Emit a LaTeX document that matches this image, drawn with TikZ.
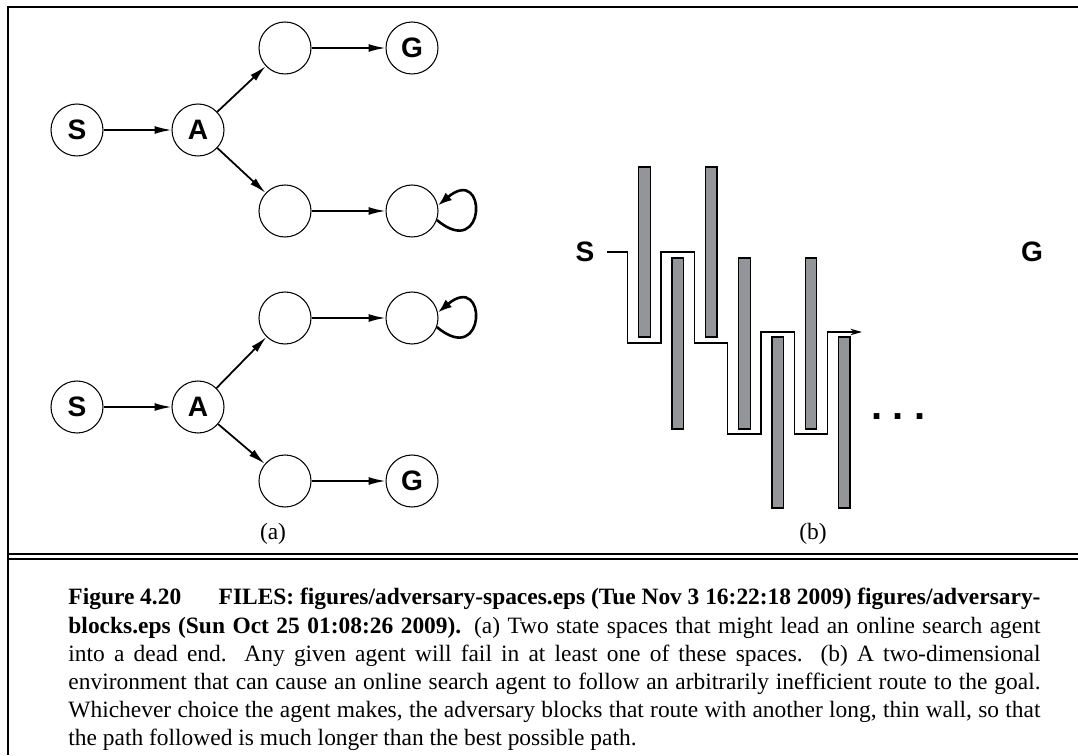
\documentclass[tikz,border=0pt]{standalone}
\usepackage{fontspec}
\setmainfont{Liberation Serif}
\setsansfont{Liberation Sans}
\usetikzlibrary{arrows.meta}
\definecolor{wallgray}{RGB}{147,149,152}
\tikzset{
    statenode/.style={circle,draw,line width=0.45pt,minimum size=0.78cm,inner sep=0pt,
        font=\sffamily\bfseries\fontsize{12}{12}\selectfont},
    trans/.style={-{Latex[length=7.2pt,width=3.4pt]},line width=0.75pt},
    selfloop/.style={-{Latex[length=6pt,width=4.2pt]},line width=1.1pt},
    wall/.style={draw,fill=wallgray,line width=0.55pt},
    route/.style={-{Stealth[length=5pt,width=2.8pt]},line width=0.55pt},
    letter/.style={font=\sffamily\bfseries\fontsize{12}{12}\selectfont},
    frameline/.style={line width=1pt}
}
\begin{document}
\begin{tikzpicture}[x=0.15cm,y=0.15cm]
            \useasboundingbox (0,0) rectangle (107.8,75.5);
            \draw [frameline] (0.8,0) -- (0.8,74.8) -- (107.8,74.8);
            \draw [frameline] (0.8,20.1) -- (107.8,20.1);
            \draw [frameline] (0.8,19.6) -- (107.8,19.6);

            \node [statenode] (S1) at (7.7,62.5) {S};
            \node [statenode] (A1) at (19.8,62.5) {A};
            \node [statenode] (U1) at (28.5,70.7) {};
            \node [statenode] (G1) at (41.2,70.7) {G};
            \node [statenode] (D1) at (28.5,54.4) {};
            \node [statenode] (L1) at (41.2,54.4) {};
            \draw [trans] (S1) -- (A1);
            \draw [trans] (A1) -- (U1);
            \draw [trans] (A1) -- (D1);
            \draw [trans] (U1) -- (G1);
            \draw [trans] (D1) -- (L1);
            \draw [selfloop] (L1.-20) .. controls +(-40:6.5) and +(40:6.5) .. (L1.12);

            \node [statenode] (S2) at (7.7,34.8) {S};
            \node [statenode] (A2) at (19.8,34.8) {A};
            \node [statenode] (U2) at (28.5,43.7) {};
            \node [statenode] (L2) at (41.2,43.7) {};
            \node [statenode] (D2) at (28.5,27.4) {};
            \node [statenode] (G2) at (41.2,27.4) {G};
            \draw [trans] (S2) -- (A2);
            \draw [trans] (A2) -- (U2);
            \draw [trans] (A2) -- (D2);
            \draw [trans] (U2) -- (L2);
            \draw [trans] (D2) -- (G2);
            \draw [selfloop] (L2.-20) .. controls +(-40:6.5) and +(40:6.5) .. (L2.12);

            \node [font=\fontsize{10}{12}\selectfont] (capa) at (27.3,22.1) {(a)};
            \node [font=\fontsize{10}{12}\selectfont] (capb) at (81.3,22.1) {(b)};

            \foreach \x/\t/\b in {64.45/58.8/41.8,67.78/49.7/32.6,71.11/58.8/41.8,
                74.44/49.7/32.6,77.77/41.8/24.7,81.1/49.7/32.6,84.43/41.8/24.7}
                \draw [wall] (\x-0.575,\b) rectangle (\x+0.575,\t);
            \node [letter,inner sep=5.3pt] (Sb) at (58.5,50.3) {S};
            \node [letter] (Gb) at (103.2,50.3) {G};
            \coordinate (end) at (86.2,42.3);
            \draw [route] (Sb.east) -| (62.78,41.2) -| (66.11,50.3) -| (69.44,41.2)
                -| (72.77,32.1) -| (76.1,42.3) -| (79.43,32.1) -| (82.76,42.3) -- (end);
            \node [font=\sffamily\bfseries\fontsize{17}{17}\selectfont] (more) at (89.85,33.8)
                {.\hspace{4.5pt}.\hspace{4.5pt}.};

            \node [anchor=north west,inner sep=0pt,text width=14.58cm,align=justify,
                font=\fontsize{10}{12}\selectfont] (caption) at (6.8,16.7)
                {\textbf{Figure 4.20\hspace{1.6em}FILES: figures/adversary-spaces.eps (Tue Nov 3 16:22:18 2009) figures/adversary-\linebreak
                blocks.eps (Sun Oct 25 01:08:26 2009).} (a) Two state spaces that might lead an online search agent\linebreak
                into a dead end. Any given agent will fail in at least one of these spaces. (b) A two-dimensional\linebreak
                environment that can cause an online search agent to follow an arbitrarily inefficient route to the goal.\linebreak
                Whichever choice the agent makes, the adversary blocks that route with another long, thin wall, so that\linebreak
                the path followed is much longer than the best possible path.};
\end{tikzpicture}
\end{document}
